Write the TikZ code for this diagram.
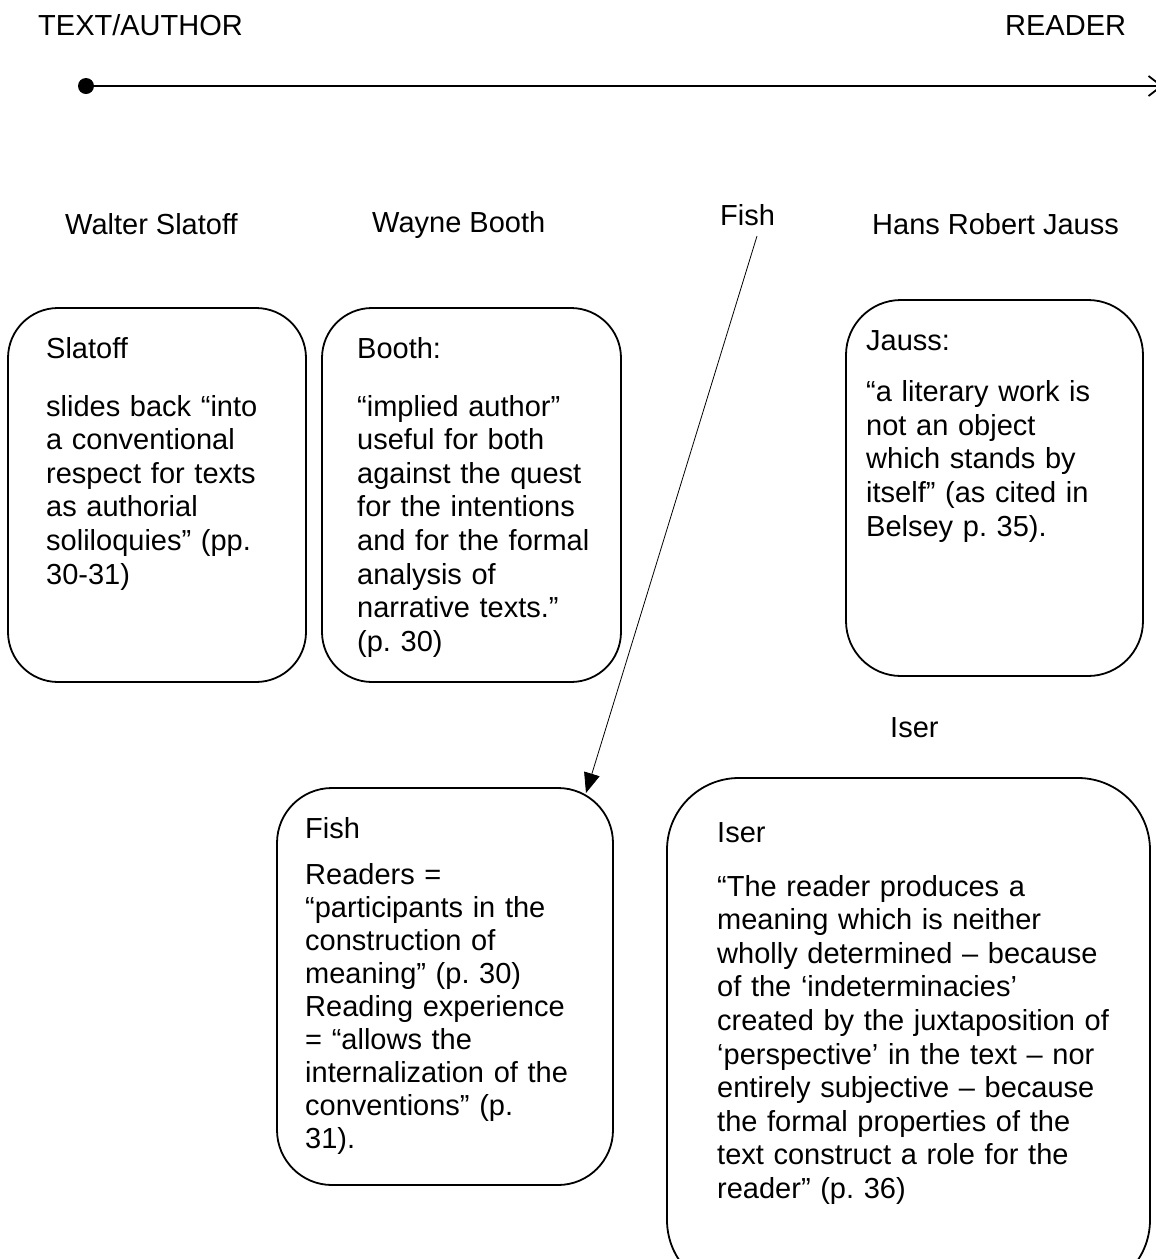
\documentclass[tikz,border=0pt]{standalone}
\usepackage{fontspec}
\setmainfont{Liberation Sans}
\usetikzlibrary{arrows.meta}
\frenchspacing
\tikzset{
  lbl/.style={inner sep=0pt, anchor=base west, font=\fontsize{29}{33.6}\selectfont},
  txt/.style={inner sep=0pt, anchor=base west, align=left, text width=#1, font=\fontsize{29}{33.6}\selectfont},
  rbox/.style={draw, line width=1.8pt, rounded corners=#1},
}
\begin{document}
\begin{tikzpicture}[x=1pt,y=-1pt]
\useasboundingbox (0,0) rectangle (1156,1259);
\begin{scope}
\clip (0,0) rectangle (1156,1259);
% timeline
\node[lbl] (ta) at (38,35) {TEXT/AUTHOR};
\node[lbl] (rd) at (1005,35) {READER};
\node[circle, fill=black, inner sep=0pt, minimum size=16pt] (dot) at (86,86) {};
\coordinate (tlend) at (1163,86);
\draw[line width=1.8pt, -{Straight Barb[length=13pt,width=20pt,line width=1.8pt]}] (dot.center) -- (tlend);
% headings
\node[lbl] (hws) at (65,234) {Walter Slatoff};
\node[lbl] (hwb) at (372,232) {Wayne Booth};
\node[lbl] (hfish) at (720,225) {Fish};
\node[lbl] (hjauss) at (872,234) {Hans Robert Jauss};
\node[lbl] (hiser) at (890,737) {Iser};
% boxes
\draw[rbox=50pt] (8,308) rectangle (306,682);
\draw[rbox=50pt] (322,308) rectangle (621,682);
\draw[rbox=55pt] (846,300) rectangle (1143,676);
\draw[rbox=55pt] (277,788) rectangle (613,1185);
\draw[rbox=72pt] (667,778) rectangle (1150,1292);
% box texts
\node[txt=260pt] (slatoff) at (46,358) {Slatoff\\[24.4pt]slides back “into\\a conventional\\respect for texts\\as authorial\\soliloquies” (pp.\\30-31)};
\node[txt=260pt] (booth) at (357,358) {Booth:\\[24.4pt]“implied author”\\useful for both\\against the quest\\for the intentions\\and for the formal\\analysis of\\narrative texts.”\\(p. 30)};
\node[txt=260pt] (jauss) at (866,350) {Jauss:\\[18pt]“a literary work is\\not an object\\which stands by\\itself” (as cited in\\Belsey p. 35).};
\node[txt=300pt, font=\fontsize{29}{33}\selectfont] (fish) at (305,838) {Fish\\[13pt]Readers =\\“participants in the\\construction of\\meaning” (p. 30)\\Reading experience\\= “allows the\\internalization of the\\conventions” (p.\\31).};
\node[txt=420pt] (iser) at (717,842) {Iser\\[20.4pt]“The reader produces a\\meaning which is neither\\wholly determined – because\\of the ‘indeterminacies’\\created by the juxtaposition of\\‘perspective’ in the text – nor\\entirely subjective – because\\the formal properties of the\\text construct a role for the\\reader” (p. 36)};
% Fish connector
\coordinate (fishtail) at (757,236);
\coordinate (fishtip) at (586,793);
\draw[line width=0.8pt, -{Triangle[length=20pt,width=16pt]}] (fishtail) -- (fishtip);
\end{scope}
\end{tikzpicture}
\end{document}
